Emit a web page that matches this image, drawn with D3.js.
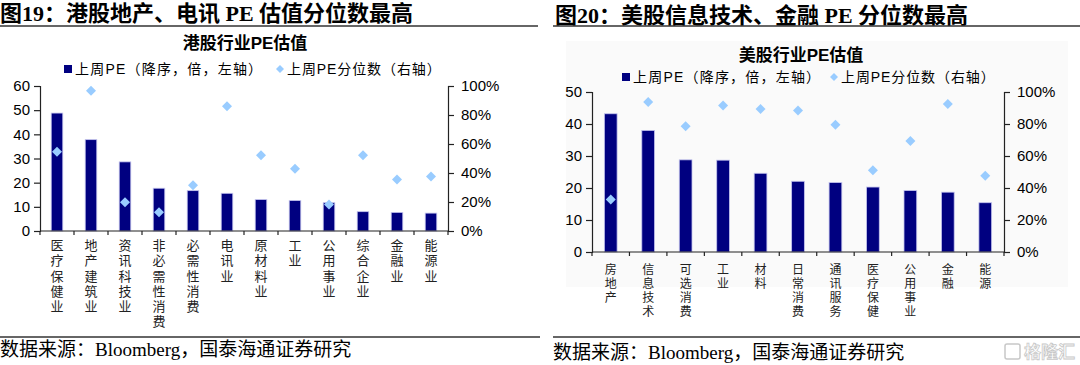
<!DOCTYPE html>
<html>
<head>
<meta charset="utf-8">
<script src="https://cdn.jsdelivr.net/npm/d3@7"></script>
<style>
  html, body { margin: 0; padding: 0; background: #fff; }
  svg { display: block; }
</style>
</head>
<body>
<div id="chart"></div>
<script>
// HK sectors, sorted by PE descending
const hkCategories = ['医疗保健业', '地产建筑业', '资讯科技业', '非必需性消费', '必需性消费', '电讯业',
  '原材料业', '工业', '公用事业', '综合企业', '金融业', '能源业'];
const hkPE = [48.8, 37.8, 28.6, 17.7, 16.7, 15.6, 13.0, 12.6, 11.7, 8.0, 7.7, 7.4];
const hkPct = [0.547, 0.968, 0.198, 0.129, 0.315, 0.86, 0.522, 0.43, 0.182, 0.522, 0.356, 0.375];

// US sectors
const usCategories = ['房地产', '信息技术', '可选消费', '工业', '材料', '日常消费', '通讯服务',
  '医疗保健', '公用事业', '金融', '能源'];
const usPE = [43.2, 38.0, 28.8, 28.7, 24.6, 22.1, 21.7, 20.3, 19.2, 18.7, 15.4];
const usPct = [0.328, 0.938, 0.786, 0.915, 0.894, 0.884, 0.796, 0.511, 0.694, 0.925, 0.476];

const hkLeftTicks = [0, 10, 20, 30, 40, 50, 60];
const usLeftTicks = [0, 10, 20, 30, 40, 50];
const pctTicks = [0, 0.2, 0.4, 0.6, 0.8, 1.0];

const legendBar = '上周PE（降序，倍，左轴）';
const legendPct = '上周PE分位数（右轴）';

const W = 1080, H = 365;
const barColor = '#000080';
const dotColor = '#99ccff';
const sans = 'Arial, "Liberation Sans", "Noto Sans CJK SC", sans-serif';
const serif = '"Liberation Serif", "Times New Roman", "Noto Sans CJK SC", serif';

const svg = d3.select('#chart').append('svg')
  .attr('width', W)
  .attr('height', H)
  .style('font-family', sans);

function header(x, y, lineX0, lineX1, lineY, text) {
  svg.append('text')
    .attr('x', x).attr('y', y)
    .attr('dominant-baseline', 'central')
    .style('font-family', serif)
    .style('font-weight', 'bold')
    .style('font-size', '22px')
    .text(text);
  svg.append('line')
    .attr('x1', lineX0).attr('x2', lineX1)
    .attr('y1', lineY).attr('y2', lineY)
    .attr('stroke', '#333').attr('stroke-width', 1.3);
}

function footer(x, y, lineX0, lineX1, lineY) {
  svg.append('line')
    .attr('x1', lineX0).attr('x2', lineX1)
    .attr('y1', lineY).attr('y2', lineY)
    .attr('stroke', '#333').attr('stroke-width', 1.3);
  svg.append('text')
    .attr('x', x).attr('y', y)
    .attr('dominant-baseline', 'central')
    .style('font-family', serif)
    .style('font-size', '19px')
    .text('数据来源：Bloomberg，国泰海通证券研究');
}

function panel(o) {
  const g = svg.append('g');

  if (o.bg) {
    g.append('rect')
      .attr('x', o.bg[0]).attr('y', o.bg[1])
      .attr('width', o.bg[2]).attr('height', o.bg[3])
      .attr('fill', '#fafafa');
  }

  // title + legend
  g.append('text')
    .attr('x', o.titleX).attr('y', o.titleY)
    .attr('text-anchor', 'middle')
    .attr('dominant-baseline', 'central')
    .style('font-weight', 'bold')
    .style('font-size', '17px')
    .text(o.title);

  g.append('rect')
    .attr('x', o.legX).attr('y', o.legY - 4)
    .attr('width', 8).attr('height', 8)
    .attr('fill', barColor);
  g.append('text')
    .attr('x', o.legX + 11).attr('y', o.legY)
    .attr('dominant-baseline', 'central')
    .style('font-size', '14px')
    .style('letter-spacing', '1.2px')
    .text(legendBar);
  g.append('path')
    .attr('d', d3.symbol(d3.symbolSquare, 32)())
    .attr('transform', `translate(${o.leg2X},${o.legY}) rotate(45)`)
    .attr('fill', dotColor);
  g.append('text')
    .attr('x', o.leg2X + 7).attr('y', o.legY)
    .attr('dominant-baseline', 'central')
    .style('font-size', '14px')
    .style('letter-spacing', '0.9px')
    .text(legendPct);

  const x = d3.scaleBand()
    .domain(o.cats)
    .range([o.x0, o.x1])
    .paddingInner(0.66)
    .paddingOuter(0.33);
  const y = d3.scaleLinear().domain([0, o.yMax]).range([o.y0, o.y1]);
  const y2 = d3.scaleLinear().domain([0, 1]).range([o.y0, o.y1]);

  // bars
  g.selectAll('rect.bar')
    .data(o.pe)
    .enter().append('rect')
    .attr('class', 'bar')
    .attr('x', (d, i) => x(o.cats[i]))
    .attr('width', x.bandwidth())
    .attr('y', d => y(d))
    .attr('height', d => y(0) - y(d))
    .attr('fill', barColor)
    .attr('stroke', '#c4c4ee')
    .attr('stroke-width', 0.8);

  // left axis
  const la = g.append('g')
    .attr('transform', `translate(${o.x0},0)`)
    .call(d3.axisLeft(y).tickValues(o.leftTicks).tickSize(6).tickPadding(4));
  la.select('.domain').attr('stroke', '#222').attr('stroke-width', 1.2);
  la.selectAll('.tick line').attr('stroke', '#222').attr('stroke-width', 1.2);
  la.selectAll('text').style('font-size', '15px').style('font-family', sans).attr('fill', '#000');

  // right axis
  const ra = g.append('g')
    .attr('transform', `translate(${o.x1},0)`)
    .call(d3.axisRight(y2).tickValues(pctTicks).tickFormat(d3.format('.0%')).tickSize(6).tickPadding(7));
  ra.select('.domain').attr('stroke', '#222').attr('stroke-width', 1.2);
  ra.selectAll('.tick line').attr('stroke', '#222').attr('stroke-width', 1.2);
  ra.selectAll('text').style('font-size', '15px').style('font-family', sans).attr('fill', '#000');

  // x axis with ticks at category boundaries
  g.append('line')
    .attr('x1', o.x0).attr('x2', o.x1)
    .attr('y1', o.y0).attr('y2', o.y0)
    .attr('stroke', '#222').attr('stroke-width', 1.2);
  const step = x.step();
  g.selectAll('line.xt')
    .data(d3.range(o.cats.length + 1))
    .enter().append('line')
    .attr('class', 'xt')
    .attr('x1', i => o.x0 + i * step).attr('x2', i => o.x0 + i * step)
    .attr('y1', o.y0).attr('y2', o.y0 + 4)
    .attr('stroke', '#222').attr('stroke-width', 1.2);

  // vertical category labels: one upright character per text, stacked downwards
  o.cats.forEach(c => {
    const cx = x(c) + x.bandwidth() / 2;
    g.selectAll(null)
      .data(Array.from(c))
      .enter().append('text')
      .attr('x', cx)
      .attr('y', (ch, k) => o.labelTop + k * o.labelStep)
      .attr('writing-mode', 'vertical-rl')
      .style('text-orientation', 'upright')
      .style('font-family', '"Noto Sans CJK SC", sans-serif')
      .style('font-size', o.labelSize + 'px')
      .attr('fill', '#222')
      .text(ch => ch);
  });

  // percentile diamonds
  g.selectAll('path.dot')
    .data(o.pct)
    .enter().append('path')
    .attr('class', 'dot')
    .attr('d', d3.symbol(d3.symbolSquare, 50)())
    .attr('transform', (d, i) => `translate(${x(o.cats[i]) + x.bandwidth() / 2},${y2(d)}) rotate(45)`)
    .attr('fill', dotColor);
}

// left figure
header(0, 13, 0, 538, 26, '图19：港股地产、电讯 PE 估值分位数最高');
panel({
  title: '港股行业PE估值', titleX: 245, titleY: 43,
  legX: 64, legY: 69, leg2X: 280,
  cats: hkCategories, pe: hkPE, pct: hkPct,
  leftTicks: hkLeftTicks, yMax: 60,
  x0: 40, x1: 448, y0: 231, y1: 86,
  labelTop: 238.5, labelStep: 15.3, labelSize: 13
});
footer(0, 349, 0, 540, 337);

// right figure
header(555, 15, 553, 1080, 26, '图20：美股信息技术、金融 PE 分位数最高');
panel({
  bg: [566, 41, 502, 246],
  title: '美股行业PE估值', titleX: 801, titleY: 55,
  legX: 622, legY: 77, leg2X: 834,
  cats: usCategories, pe: usPE, pct: usPct,
  leftTicks: usLeftTicks, yMax: 50,
  x0: 592, x1: 1004, y0: 252, y1: 92,
  labelTop: 263, labelStep: 14, labelSize: 12
});
footer(553, 352, 553, 1080, 337);

// watermark
svg.append('text')
  .attr('x', 1075).attr('y', 352)
  .attr('text-anchor', 'end')
  .attr('dominant-baseline', 'central')
  .style('font-size', '17px')
  .style('font-weight', 'bold')
  .attr('fill', 'none')
  .attr('stroke', '#c8c8c8')
  .attr('stroke-width', 0.8)
  .text('格隆汇');
svg.append('rect')
  .attr('x', 1005).attr('y', 344)
  .attr('width', 15).attr('height', 15)
  .attr('rx', 2)
  .attr('fill', 'none')
  .attr('stroke', '#c8c8c8')
  .attr('stroke-width', 1.5);
</script>
</body>
</html>
